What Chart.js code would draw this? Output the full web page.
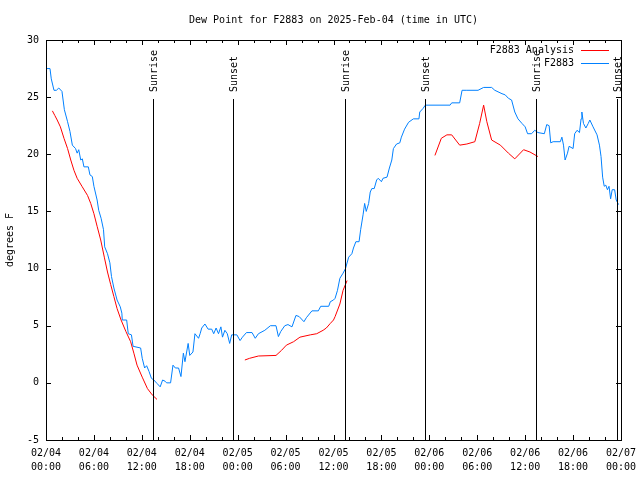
<!DOCTYPE html>
<html>
<head>
<meta charset="utf-8">
<script src="https://cdn.jsdelivr.net/npm/chart.js@4"></script>
<style>
html,body{margin:0;padding:0;background:#fff;}
#wrap{width:640px;height:480px;}
</style>
</head>
<body>
<div id="wrap"><canvas id="c" width="640" height="480"></canvas></div>
<script>
// ---- Data (x = hours since 2025-02-04 00:00 UTC) ----
const titleText = "Dew Point for F2883 on 2025-Feb-04 (time in UTC)";
const yTitle = "degrees F";
const xTickDates = ["02/04","02/04","02/04","02/04","02/05","02/05","02/05","02/05","02/06","02/06","02/06","02/06","02/07"];
const xTickTimes = ["00:00","06:00","12:00","18:00","00:00","06:00","12:00","18:00","00:00","06:00","12:00","18:00","00:00"];
const yTicks = [-5,0,5,10,15,20,25,30];

const obsHours = [0.0,0.5,0.66,1.0,1.3,1.6,2.0,2.3,2.7,3.0,3.3,3.7,3.9,4.1,4.35,4.55,4.75,5.3,5.5,5.8,6.0,6.4,6.6,6.9,7.2,7.35,7.7,8.0,8.2,8.5,8.9,9.3,9.5,9.55,10.1,10.3,10.7,10.9,11.85,12.05,12.35,12.6,12.9,13.2,13.5,13.9,14.3,14.6,14.9,15.1,15.6,15.9,16.2,16.6,16.9,17.2,17.4,17.8,18.0,18.4,18.65,19.1,19.3,19.5,19.9,20.3,20.75,21.0,21.3,21.6,21.9,22.1,22.4,22.7,23.0,23.25,23.9,24.3,24.6,25.1,25.8,26.2,26.6,27.4,28.1,28.8,29.1,29.4,29.9,30.3,30.8,31.3,31.7,32.3,32.6,33.3,34.1,34.4,35.4,35.6,36.0,36.2,36.5,36.8,37.2,37.5,37.9,38.3,38.5,38.8,39.2,39.4,39.7,39.9,40.1,40.4,40.6,40.8,41.1,41.4,41.6,42.0,42.2,42.7,43.0,43.3,43.5,43.9,44.3,44.5,44.9,45.4,46.0,46.7,46.8,47.2,47.5,50.6,50.8,51.8,52.1,52.7,54.1,54.8,55.8,56.2,57.1,57.5,57.9,58.3,58.7,59.1,59.6,60.0,60.3,60.8,61.2,61.6,62.4,62.7,63.0,63.2,63.5,64.4,64.6,64.8,65.0,65.3,65.5,66.0,66.2,66.5,66.8,67.0,67.1,67.3,67.6,67.9,68.1,68.5,69.0,69.3,69.5,69.7,69.9,70.1,70.3,70.5,70.7,70.9,71.2,71.4,71.7];
const obsValues = [27.5,27.5,26.6,25.6,25.6,25.8,25.5,23.9,22.85,22.0,20.8,20.5,20.1,20.4,19.5,19.6,18.9,18.9,18.2,18.05,17.2,16.0,15.1,14.4,13.4,11.9,11.3,10.5,9.3,8.3,7.25,6.65,6.1,5.5,5.5,4.3,4.2,3.2,3.05,2.15,1.3,1.5,1.0,0.4,0.25,-0.05,-0.35,0.25,0.15,0.0,0.0,1.55,1.3,1.3,0.55,2.6,1.85,3.45,2.4,2.7,4.3,3.9,4.3,4.8,5.15,4.7,4.7,4.3,4.8,4.3,4.9,4.0,4.6,4.3,3.45,4.2,4.2,3.7,4.0,4.4,4.4,3.9,4.3,4.6,5.0,5.0,4.05,4.5,5.0,5.1,4.9,5.9,5.8,5.35,5.7,6.3,6.3,6.7,6.7,7.1,7.25,7.4,8.1,9.15,9.6,10.0,11.0,11.3,11.8,12.35,12.35,13.4,14.7,15.7,15.0,15.7,16.7,17.0,17.0,17.75,17.9,17.6,17.9,18.0,18.8,19.5,20.5,20.9,21.0,21.5,22.2,22.8,23.1,23.1,23.7,24.0,24.3,24.3,24.5,24.5,25.6,25.6,25.6,25.85,25.85,25.6,25.3,25.2,24.9,24.75,23.7,23.1,22.7,22.4,21.8,21.8,22.1,21.9,21.8,22.6,22.5,21.0,21.1,21.1,21.5,20.8,19.5,20.1,20.7,20.5,21.8,22.1,21.9,23.1,23.7,22.7,22.3,22.7,23.0,22.4,21.7,20.8,19.8,18.0,17.2,17.3,16.9,17.2,16.1,16.9,16.9,16.0,15.6];

const anaHours1 = [0.8,1.1,1.4,1.8,2.25,2.7,3.1,3.5,3.9,4.5,5.2,5.6,6.0,6.4,6.85,7.3,7.7,8.1,8.5,8.9,9.4,10.0,10.6,11.0,11.4,12.05,12.7,13.3,13.9];
const anaValues1 = [23.8,23.4,23.0,22.4,21.4,20.5,19.5,18.6,17.9,17.2,16.4,15.7,14.8,13.7,12.5,11.0,9.7,8.6,7.55,6.5,5.5,4.5,3.6,2.6,1.55,0.5,-0.5,-1.05,-1.45];
const anaHours2 = [24.9,25.5,26.6,28.8,29.5,30.1,31.0,31.8,33.1,33.9,34.7,35.1,35.6,36.0,36.2,36.8,37.2,37.7];
const anaValues2 = [2.0,2.15,2.35,2.4,2.85,3.3,3.6,4.0,4.2,4.3,4.6,4.8,5.2,5.5,5.8,6.9,8.1,8.95];
const anaHours3 = [48.7,49.5,50.2,50.8,51.8,52.7,53.7,54.3,54.8,55.2,55.8,56.9,57.9,58.7,59.8,60.6,61.6];
const anaValues3 = [19.9,21.4,21.7,21.7,20.8,20.9,21.1,22.7,24.3,22.85,21.25,20.8,20.1,19.6,20.4,20.2,19.8];

const eventHours = [13.44,23.45,37.48,47.49,61.40,71.46];
const eventNames = ["Sunrise","Sunset","Sunrise","Sunset","Sunrise","Sunset"];

// ---- Build datasets ----
const zip = (xs, ys) => xs.map((x, i) => ({x: x, y: ys[i]}));
const obsData = zip(obsHours, obsValues);
const anaData = [].concat(
  zip(anaHours1, anaValues1), [{x: 19, y: null}],
  zip(anaHours2, anaValues2), [{x: 43, y: null}],
  zip(anaHours3, anaValues3)
);

const FONT = "'DejaVu Sans Mono', 'Liberation Mono', monospace";

const framePlugin = {
  id: 'frame',
  afterDatasetsDraw(chart) {
    const {ctx, chartArea: a, scales: {x, y}} = chart;
    ctx.save();
    ctx.strokeStyle = '#000';
    ctx.lineWidth = 1;
    ctx.beginPath();
    for (let h = x.min; h <= x.max + 1e-9; h += 2) {
      const px = Math.round(x.getPixelForValue(h)) + 0.5;
      const len = (h % 6 === 0) ? 5 : 3;
      ctx.moveTo(px, a.bottom); ctx.lineTo(px, a.bottom - len);
      ctx.moveTo(px, a.top); ctx.lineTo(px, a.top + len);
    }
    yTicks.forEach(v => {
      const py = Math.round(y.getPixelForValue(v)) + 0.5;
      ctx.moveTo(a.left, py); ctx.lineTo(a.left + 5, py);
      ctx.moveTo(a.right, py); ctx.lineTo(a.right - 5, py);
    });
    ctx.stroke();
    ctx.strokeRect(Math.round(a.left) + 0.5, Math.round(a.top) + 0.5,
                   Math.round(a.right - a.left), Math.round(a.bottom - a.top));

    // Sunrise / Sunset markers
    ctx.font = '10px ' + FONT;
    ctx.fillStyle = '#000';
    eventHours.forEach((h, i) => {
      const px = Math.round(x.getPixelForValue(h)) + 0.5;
      ctx.beginPath();
      ctx.moveTo(px, a.top + 59);
      ctx.lineTo(px, a.bottom);
      ctx.stroke();
      ctx.save();
      ctx.translate(px + 1, a.top + 52);
      ctx.rotate(-Math.PI / 2);
      ctx.textAlign = 'left';
      ctx.textBaseline = 'middle';
      ctx.fillText(eventNames[i], 0, 0);
      ctx.restore();
    });

    // Legend (text right-aligned, sample line to the right)
    const ds = chart.data.datasets;
    ctx.textAlign = 'right';
    ctx.textBaseline = 'middle';
    ds.forEach((d, i) => {
      const yy = a.top + 10 + i * 13;
      ctx.fillStyle = '#000';
      ctx.fillText(d.label, a.right - 47, yy);
      ctx.strokeStyle = d.borderColor;
      ctx.beginPath();
      ctx.moveTo(a.right - 40, Math.round(yy) + 0.5);
      ctx.lineTo(a.right - 12, Math.round(yy) + 0.5);
      ctx.stroke();
    });
    ctx.restore();
  }
};

new Chart(document.getElementById('c'), {
  type: 'line',
  data: {
    datasets: [
      {label: 'F2883 Analysis', data: anaData, borderColor: '#ff0000', borderWidth: 1, pointRadius: 0, tension: 0, spanGaps: false},
      {label: 'F2883', data: obsData, borderColor: '#0080ff', borderWidth: 1, pointRadius: 0, tension: 0}
    ]
  },
  options: {
    responsive: false,
    animation: false,
    devicePixelRatio: 1,
    layout: {padding: {left: 0, right: 19, top: 0, bottom: 0}},
    plugins: {
      legend: {display: false},
      tooltip: {enabled: false},
      title: {
        display: true,
        text: titleText,
        fullSize: false,
        color: '#000',
        font: {family: FONT, size: 10, weight: 'normal', lineHeight: 1.2},
        padding: {top: 14, bottom: 14}
      }
    },
    scales: {
      x: {
        type: 'linear', min: 0, max: 72,
        grid: {display: false, drawTicks: false},
        border: {display: false},
        afterFit(s) { s.height = 40; s.paddingLeft = 0; s.paddingRight = 0; },
        ticks: {
          stepSize: 6, maxRotation: 0, autoSkip: false, padding: 7, color: '#000',
          font: {family: FONT, size: 10, lineHeight: '13.5px'},
          callback: (v) => { const i = Math.round(v / 6); return [xTickDates[i], xTickTimes[i]]; }
        }
      },
      y: {
        type: 'linear', min: -5, max: 30,
        grid: {display: false, drawTicks: false},
        border: {display: false},
        afterFit(s) { s.width = 46; s.paddingTop = 0; s.paddingBottom = 0; },
        title: {display: true, text: yTitle, color: '#000', padding: {top: 4, bottom: 0},
                font: {family: FONT, size: 10, lineHeight: 1.2}},
        ticks: {stepSize: 5, padding: 7, color: '#000', font: {family: FONT, size: 10}}
      }
    }
  },
  plugins: [framePlugin]
});
</script>
</body>
</html>
